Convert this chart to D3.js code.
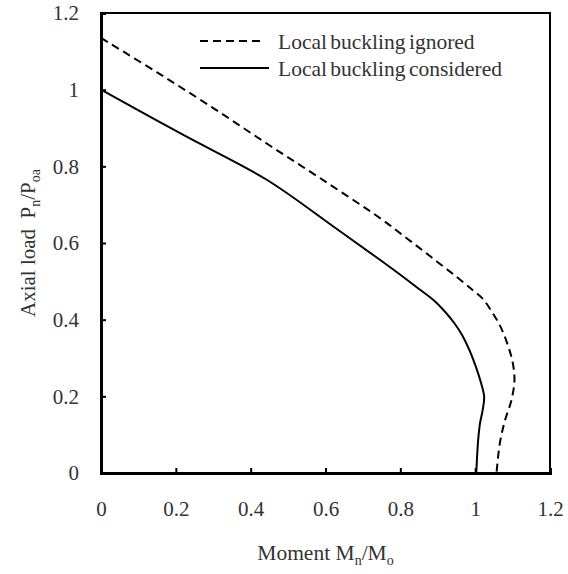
<!DOCTYPE html>
<html>
<head>
<meta charset="utf-8">
<script src="https://cdnjs.cloudflare.com/ajax/libs/d3/7.8.5/d3.min.js"></script>
<style>
  html, body { margin: 0; padding: 0; background: #fff; }
  text { font-family: "Liberation Serif", "Times New Roman", serif; fill: #333; white-space: pre; }
</style>
</head>
<body>
<div class="chart-pm"><svg></svg></div>
<script>
'use strict';

// Datos
var momentIgnored = [0, 0.15, 0.3, 0.45, 0.6, 0.75, 0.8, 0.85, 0.9, 0.95, 0.99, 1.02, 1.045, 1.066, 1.085, 1.1, 1.105, 1.097, 1.08, 1.066, 1.057];
var loadIgnored   = [1.135, 1.045, 0.952, 0.855, 0.76, 0.662, 0.625, 0.588, 0.55, 0.512, 0.48, 0.455, 0.42, 0.385, 0.34, 0.29, 0.243, 0.19, 0.138, 0.078, 0];

var momentConsidered = [0, 0.22, 0.443, 0.621, 0.75, 0.8, 0.85, 0.89, 0.92, 0.945, 0.965, 0.985, 1.002, 1.016, 1.024, 1.02, 1.013, 1.008, 1.005, 1.003];
var loadConsidered   = [1.0, 0.882, 0.765, 0.643, 0.553, 0.517, 0.48, 0.45, 0.42, 0.39, 0.36, 0.32, 0.277, 0.234, 0.199, 0.164, 0.13, 0.086, 0.04, 0];

var seriesNames = ['Local buckling ignored', 'Local buckling considered'];
var xTicks = [0, 0.2, 0.4, 0.6, 0.8, 1, 1.2];
var yTicks = [0, 0.2, 0.4, 0.6, 0.8, 1, 1.2];

function pmChart() {
    var w = 568, h = 574;
    var margin = { top: 13, right: 18, bottom: 101, left: 101 };
    var width = w - margin.left - margin.right;
    var height = h - margin.top - margin.bottom;

    var svg = d3.select('.chart-pm svg').attr('width', w).attr('height', h);
    svg.append('rect').attr('width', w).attr('height', h).attr('fill', '#fff');

    var g = svg.append('g').attr('transform', 'translate(' + margin.left + ',' + margin.top + ')');

    var x = d3.scaleLinear().domain([0, 1.2]).range([0, width]);
    var y = d3.scaleLinear().domain([0, 1.2]).range([height, 0]);

    // marco superior y derecho
    g.append('path')
        .attr('d', 'M0,0H' + width + 'V' + height)
        .attr('fill', 'none').attr('stroke', '#000').attr('stroke-width', 2);

    // ejes con ticks hacia dentro
    var axisX = d3.axisBottom(x).tickValues(xTicks).tickSize(-5).tickPadding(28)
        .tickFormat(function (d) { return d3.format('')(d); });
    var gx = g.append('g').attr('class', 'axis axis-x')
        .attr('transform', 'translate(0,' + height + ')').call(axisX);

    var axisY = d3.axisLeft(y).tickValues(yTicks).tickSize(-5).tickPadding(22)
        .tickFormat(function (d) { return d3.format('')(d); });
    var gy = g.append('g').attr('class', 'axis axis-y').call(axisY);

    [gx, gy].forEach(function (a) {
        a.select('.domain').attr('stroke', '#000').attr('stroke-width', 3);
        a.selectAll('.tick line').attr('stroke', '#000').attr('stroke-width', 2);
        a.selectAll('.tick text').attr('font-size', 21)
            .attr('font-family', '"Liberation Serif", serif').attr('fill', '#333');
    });
    gx.selectAll('.tick').filter(function (d) { return d === 0 || d === 1.2; }).select('line').remove();
    gy.selectAll('.tick').filter(function (d) { return d === 0 || d === 1.2; }).select('line').remove();

    var line = d3.line()
        .x(function (d) { return x(d[0]); })
        .y(function (d) { return y(d[1]); })
        .curve(d3.curveCatmullRom.alpha(0.5));

    var ignored = momentIgnored.map(function (m, i) { return [m, loadIgnored[i]]; });
    var considered = momentConsidered.map(function (m, i) { return [m, loadConsidered[i]]; });

    g.append('path').datum(ignored).attr('d', line)
        .attr('fill', 'none').attr('stroke', '#000').attr('stroke-width', 2)
        .attr('stroke-dasharray', '8,5');
    g.append('path').datum(considered).attr('d', line)
        .attr('fill', 'none').attr('stroke', '#000').attr('stroke-width', 2);

    // leyenda
    var legend = svg.append('g').attr('class', 'legend');
    var items = legend.selectAll('g').data(seriesNames).enter().append('g')
        .attr('transform', function (d, i) { return 'translate(200,' + (41 + i * 27) + ')'; });
    items.append('line')
        .attr('x1', 0).attr('x2', function (d, i) { return i === 0 ? 63 : 69; })
        .attr('stroke', '#000').attr('stroke-width', 2)
        .attr('stroke-dasharray', function (d, i) { return i === 0 ? '8,5' : null; });
    items.append('text').attr('x', 78).attr('dy', '0.35em').attr('font-size', 21.5)
        .attr('word-spacing', -2)
        .text(function (d) { return d; });

    // titulos de ejes
    var xt = svg.append('text').attr('x', margin.left + width / 2).attr('y', 560)
        .attr('text-anchor', 'middle').attr('font-size', 21.5);
    xt.append('tspan').text('Moment M');
    xt.append('tspan').attr('font-size', 14).attr('dy', 5).text('n');
    xt.append('tspan').attr('dy', -5).text('/M');
    xt.append('tspan').attr('font-size', 14).attr('dy', 5).text('o');

    var yt = svg.append('text')
        .attr('transform', 'translate(35,' + (margin.top + height / 2) + ') rotate(-90)')
        .attr('text-anchor', 'middle').attr('font-size', 21);
    yt.append('tspan').text('Axial load  P');
    yt.append('tspan').attr('font-size', 14).attr('dy', 5).text('n');
    yt.append('tspan').attr('dy', -5).text('/P');
    yt.append('tspan').attr('font-size', 14).attr('dy', 5).text('oa');
}

pmChart();
</script>
</body>
</html>
